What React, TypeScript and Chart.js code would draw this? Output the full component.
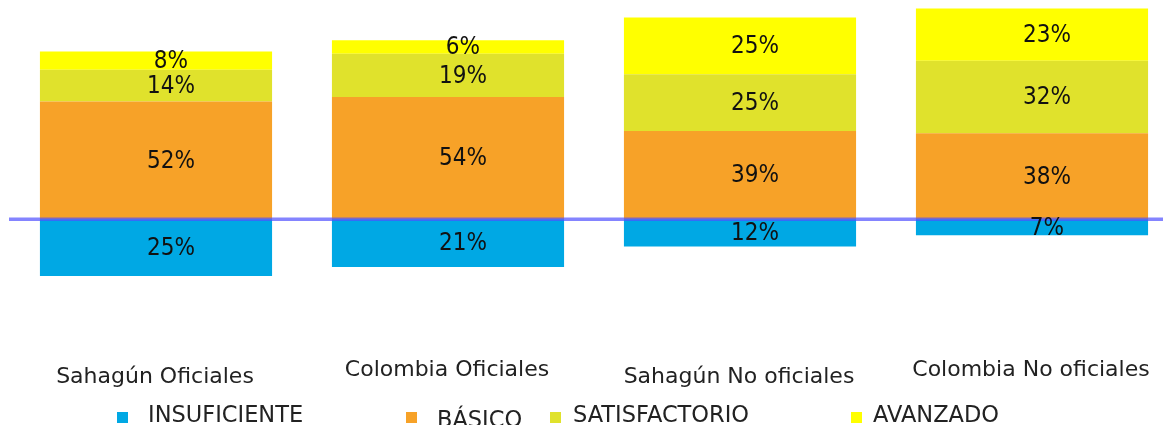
import React, { useEffect, useRef } from "react";
import { Chart, registerables } from "chart.js";

Chart.register(...registerables);

const categories = ["Sahagún Oficiales", "Colombia Oficiales", "Sahagún No oficiales", "Colombia No oficiales"];
const seriesNames = ["INSUFICIENTE", "BÁSICO", "SATISFACTORIO", "AVANZADO"];
const insuficiente = [25, 21, 12, 7];
const basico = [52, 54, 39, 38];
const satisfactorio = [14, 19, 25, 32];
const avanzado = [8, 6, 25, 23];

const colors = ["#00A8E4", "#F7A228", "#E0E22C", "#FFFF00"];

// layout constants (not data)
const categoryBaselines = [383, 376, 383, 376];
const legendLayout = [
  { box: 117, text: 148, base: 422 },
  { box: 406, text: 437, base: 427 },
  { box: 550, text: 573, base: 422 },
  { box: 851, text: 873, base: 422 },
];

const overlayPlugin = {
  id: "overlay",
  afterDatasetsDraw(chart: any) {
    const ctx = chart.ctx;
    const yScale = chart.scales.y;
    const xScale = chart.scales.x;
    ctx.save();
    // zero line
    const y0 = yScale.getPixelForValue(0);
    ctx.strokeStyle = "rgba(80,80,255,0.7)";
    ctx.lineWidth = 3.5;
    ctx.beginPath();
    ctx.moveTo(9, y0);
    ctx.lineTo(chart.width, y0);
    ctx.stroke();

    // data labels
    ctx.fillStyle = "#111111";
    ctx.font = "24px 'DejaVu Sans Condensed', 'DejaVu Sans', sans-serif";
    ctx.textAlign = "center";
    ctx.textBaseline = "middle";
    chart.data.datasets.forEach((ds: any, i: number) => {
      const meta = chart.getDatasetMeta(i);
      meta.data.forEach((el: any, j: number) => {
        const p = el.getProps(["x", "y", "base"], true);
        const v = Math.abs(ds.data[j]);
        ctx.fillText(`${v}%`, p.x + 15, (p.y + p.base) / 2 + 1);
      });
    });

    // category labels
    ctx.fillStyle = "#222222";
    ctx.font = "22px 'DejaVu Sans', sans-serif";
    ctx.textBaseline = "alphabetic";
    categories.forEach((c, j) => {
      ctx.fillText(c, xScale.getPixelForValue(j) - 1, categoryBaselines[j]);
    });

    // legend
    ctx.font = "22.5px 'DejaVu Sans', sans-serif";
    ctx.textAlign = "left";
    seriesNames.forEach((name, i) => {
      const l = legendLayout[i];
      ctx.fillStyle = colors[i];
      ctx.fillRect(l.box, 412, 11, 11);
      ctx.fillStyle = "#222222";
      ctx.fillText(name, l.text, l.base);
    });
    ctx.restore();
  },
};

export default function App() {
  const ref = useRef<HTMLCanvasElement | null>(null);
  useEffect(() => {
    if (!ref.current) return;
    const chart = new Chart(ref.current, {
      type: "bar",
      data: {
        labels: categories,
        datasets: [
          { label: seriesNames[0], data: insuficiente.map((v) => -v), backgroundColor: colors[0] },
          { label: seriesNames[1], data: basico, backgroundColor: colors[1] },
          { label: seriesNames[2], data: satisfactorio, backgroundColor: colors[2] },
          { label: seriesNames[3], data: avanzado, backgroundColor: colors[3] },
        ],
      },
      options: {
        responsive: false,
        animation: false,
        layout: { padding: { left: 10, right: 2, top: 4, bottom: 115 } },
        plugins: { legend: { display: false }, tooltip: { enabled: false } },
        scales: {
          x: { display: false, stacked: true, grid: { display: false } },
          y: { display: false, stacked: true, min: -40, max: 95, grid: { display: false } },
        },
        datasets: { bar: { barPercentage: 0.795, categoryPercentage: 1 } },
      },
      plugins: [overlayPlugin],
    });
    return () => chart.destroy();
  }, []);
  return (
    <div style={{ position: "fixed", left: 0, top: 0, width: 1163, height: 425, overflow: "hidden", background: "#fff" }}>
      <canvas ref={ref} width={1180} height={425} />
    </div>
  );
}
